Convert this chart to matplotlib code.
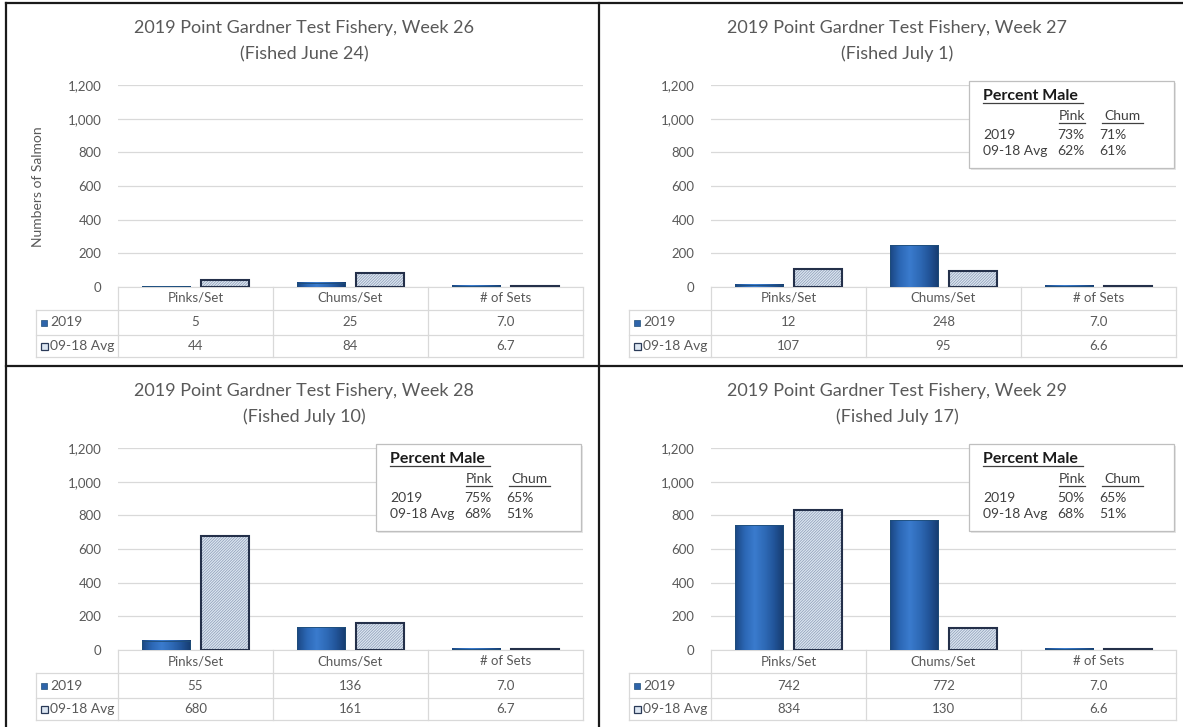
"""Point Gardner test fishery, weekly catch per set (2019 vs 09-18 average)."""

import numpy as np
import matplotlib.pyplot as plt
from matplotlib.colors import LinearSegmentedColormap
from matplotlib.patches import Rectangle
from matplotlib.lines import Line2D

W, H = 1183, 727

categories = ["Pinks/Set", "Chums/Set", "# of Sets"]
series_names = ["2019", "09-18 Avg"]

weeks = [26, 27, 28, 29]
fished = ["June 24", "July 1", "July 10", "July 17"]

catch_2019 = [
    [5, 25, 7.0],
    [12, 248, 7.0],
    [55, 136, 7.0],
    [742, 772, 7.0],
]
catch_avg = [
    [44, 84, 6.7],
    [107, 95, 6.6],
    [680, 161, 6.7],
    [834, 130, 6.6],
]

# percent male boxes (week 26 has none)
pink_male_2019 = [None, 73, 75, 50]
chum_male_2019 = [None, 71, 65, 65]
pink_male_avg = [None, 62, 68, 68]
chum_male_avg = [None, 61, 51, 51]

plt.rcParams["font.family"] = ["Lato", "DejaVu Sans"]
plt.rcParams["hatch.color"] = "#8A9BB5"
plt.rcParams["hatch.linewidth"] = 0.5

GRAY = "#595959"
GRID = "#D9D9D9"

blue_cmap = LinearSegmentedColormap.from_list(
    "bar2019", ["#1B4784", "#2C68B6", "#3A7BCD", "#2F6BB8", "#22559A", "#163C70"]
)
grad = np.linspace(0, 1, 64).reshape(1, -1)


def fx(x):
    return x / W


def fy(y):
    return 1 - y / H


def draw_panel(fig, i, ox, oy):
    ax = fig.add_axes([fx(ox + 112), fy(oy + 82 + 202), 465 / W, 202 / H])
    x = np.arange(len(categories))
    off, w = 0.19, 0.315

    bars = ax.bar(x - off, catch_2019[i], w, color="none", edgecolor="#1F4E79",
                  linewidth=0.6, zorder=4)
    for r in bars:
        ax.imshow(grad, extent=[r.get_x(), r.get_x() + r.get_width(), 0, r.get_height()],
                  cmap=blue_cmap, aspect="auto", zorder=3, interpolation="bilinear")

    ax.bar(x + off, catch_avg[i], w, color="#DDE6F1", edgecolor="#8A9BB5",
           hatch="////////////", linewidth=0, zorder=3)
    ax.bar(x + off, catch_avg[i], w, fill=False, edgecolor="#24304A",
           linewidth=1.5, zorder=4)

    ax.set_xlim(-0.5, 2.5)
    ax.set_ylim(0, 1200)
    ax.set_aspect("auto")
    ticks = list(range(0, 1201, 200))
    ax.set_yticks(ticks)
    ax.set_yticklabels([f"{t:,}" for t in ticks])
    ax.set_xticks([])
    ax.tick_params(axis="y", length=0, pad=12, labelsize=9.5, labelcolor=GRAY)
    ax.yaxis.grid(True, color=GRID, linewidth=0.9)
    ax.set_axisbelow(True)
    for s in ["top", "right", "left"]:
        ax.spines[s].set_visible(False)
    ax.spines["bottom"].set_color(GRID)

    # data table under the axis
    tr = ax.get_xaxis_transform()
    ph = 202.0
    y_rows = [-23 / ph, -48 / ph, -70 / ph]
    left = -0.5 - 82 / 155
    for yy in y_rows:
        ax.plot([left, 2.5], [yy, yy], color=GRID, lw=0.9, transform=tr, clip_on=False)
    for xx in [-0.5, 0.5, 1.5, 2.5]:
        ax.plot([xx, xx], [0, y_rows[-1]], color=GRID, lw=0.9, transform=tr, clip_on=False)
    ax.plot([left, left], [y_rows[0], y_rows[-1]], color=GRID, lw=0.9, transform=tr,
            clip_on=False)

    y_head, y_a, y_b = -11 / ph, -35.5 / ph, -59 / ph
    for j, cat in enumerate(categories):
        ax.text(j, y_head, cat, transform=tr, ha="center", va="center", fontsize=9.5,
                color=GRAY)
        v1, v2 = catch_2019[i][j], catch_avg[i][j]
        s1 = f"{v1:.1f}" if j == 2 else f"{v1:d}"
        s2 = f"{v2:.1f}" if j == 2 else f"{v2:d}"
        ax.text(j, y_a, s1, transform=tr, ha="center", va="center", fontsize=9.5, color=GRAY)
        ax.text(j, y_b, s2, transform=tr, ha="center", va="center", fontsize=9.5, color=GRAY)

    key_x = -0.5 - 77 / 155
    lab_x = -0.5 - 68 / 155
    ax.add_patch(Rectangle((key_x, y_a - 3 / ph), 6 / 155, 6 / ph, transform=tr,
                           facecolor="#2E64AA", edgecolor="#1F4E79", lw=0.5, clip_on=False))
    ax.add_patch(Rectangle((key_x, y_b - 3.5 / ph), 7 / 155, 7 / ph, transform=tr,
                           facecolor="#DCE6F2", edgecolor="#2A3A58", lw=0.9, clip_on=False))
    ax.text(lab_x, y_a, series_names[0], transform=tr, ha="left", va="center",
            fontsize=10, color=GRAY)
    ax.text(lab_x, y_b, series_names[1], transform=tr, ha="left", va="center",
            fontsize=10, color=GRAY)

    # titles
    fig.text(fx(ox + 298), fy(oy + 25),
             f"2019 Point Gardner Test Fishery, Week {weeks[i]}",
             ha="center", va="center", fontsize=13, color=GRAY)
    fig.text(fx(ox + 298), fy(oy + 51), f"(Fished {fished[i]})",
             ha="center", va="center", fontsize=13, color=GRAY)

    if i == 0:
        fig.text(fx(ox + 32), fy(oy + 184), "Numbers of Salmon", rotation=90,
                 ha="center", va="center", fontsize=10, color=GRAY)

    if pink_male_2019[i] is not None:
        bx, by = ox + 370, oy + 78
        fig.add_artist(Rectangle((fx(bx + 2), fy(by + 89)), 205 / W, 87 / H,
                                 transform=fig.transFigure, facecolor="#E6E6E6",
                                 edgecolor="none", zorder=5))
        fig.add_artist(Rectangle((fx(bx), fy(by + 87)), 205 / W, 87 / H,
                                 transform=fig.transFigure, facecolor="white",
                                 edgecolor="#BFBFBF", lw=0.9, zorder=6))
        tk = dict(va="center", fontsize=10, color="#404040", zorder=7)
        fig.text(fx(bx + 14), fy(by + 15), "Percent Male", ha="left", fontweight="bold",
                 va="center", fontsize=11.5, color="#1A1A1A", zorder=7)
        fig.text(fx(bx + 103), fy(by + 35), "Pink", ha="center", **tk)
        fig.text(fx(bx + 153), fy(by + 35), "Chum", ha="center", **tk)
        for x0, x1, yy in [(14, 114, 22), (90, 116, 42), (133, 174, 42)]:
            fig.add_artist(Line2D([fx(bx + x0), fx(bx + x1)], [fy(by + yy)] * 2,
                                  color="#404040", lw=0.9, zorder=7))
        fig.text(fx(bx + 14), fy(by + 54), "2019", ha="left", **tk)
        fig.text(fx(bx + 14), fy(by + 70), "09-18 Avg", ha="left", **tk)
        fig.text(fx(bx + 102), fy(by + 54), f"{pink_male_2019[i]}%", ha="center", **tk)
        fig.text(fx(bx + 144), fy(by + 54), f"{chum_male_2019[i]}%", ha="center", **tk)
        fig.text(fx(bx + 102), fy(by + 70), f"{pink_male_avg[i]}%", ha="center", **tk)
        fig.text(fx(bx + 144), fy(by + 70), f"{chum_male_avg[i]}%", ha="center", **tk)


fig = plt.figure(figsize=(W / 100, H / 100), dpi=100)

origins = [(6, 3), (599, 3), (6, 366), (599, 366)]
for i, (ox, oy) in enumerate(origins):
    draw_panel(fig, i, ox, oy)

# black frame lines between the panels
frame = dict(color="#1A1A1A", lw=1.6, zorder=10)
fig.add_artist(Line2D([fx(6), 1], [fy(3)] * 2, **frame))
fig.add_artist(Line2D([fx(6), 1], [fy(366)] * 2, **frame))
fig.add_artist(Line2D([fx(6)] * 2, [fy(3), 0], **frame))
fig.add_artist(Line2D([fx(599)] * 2, [fy(3), 0], **frame))

fig.savefig("out.png", dpi=100)
